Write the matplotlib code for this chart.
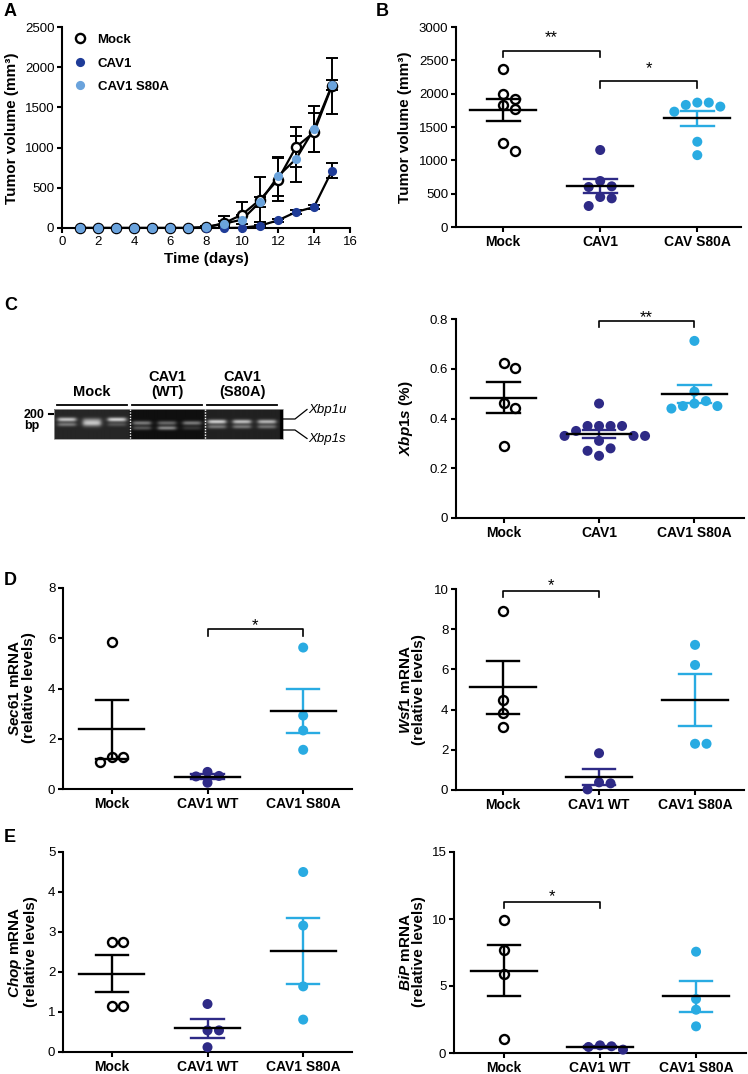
import numpy as np
import matplotlib
matplotlib.use("Agg")
import matplotlib.pyplot as plt
from matplotlib.lines import Line2D
from matplotlib.patches import Rectangle

plt.rcParams['font.family'] = ['Liberation Sans', 'DejaVu Sans']
plt.rcParams['mathtext.fontset'] = 'custom'
plt.rcParams['mathtext.it'] = 'Liberation Sans:italic:bold'
plt.rcParams['mathtext.rm'] = 'Liberation Sans:bold'
plt.rcParams['mathtext.bf'] = 'Liberation Sans:bold'

W, H = 748, 1074

# ---- A: tumor growth curves ----
days = list(range(1, 16))
mock_curve = [0, 0, 0, 0, 0, 0, 0, 10, 60, 166, 352, 601, 1007, 1190, 1770]
mock_curve_err = [0, 0, 0, 0, 0, 0, 0, 10, 90, 160, 280, 270, 250, 240, 350]
cav1_curve = [0, 0, 0, 0, 0, 0, 0, 0, 0, 3, 29, 95, 199, 261, 713]
cav1_curve_err = [0, 0, 0, 0, 0, 0, 0, 0, 0, 3, 10, 15, 20, 20, 90]
s80a_curve = [0, 0, 0, 0, 0, 0, 0, 10, 54, 104, 323, 643, 858, 1231, 1779]
s80a_curve_err = [0, 0, 0, 0, 0, 0, 0, 10, 30, 60, 60, 240, 290, 290, 65]

# ---- B: final tumor volume ----
tumor_cats = ['Mock', 'CAV1', 'CAV S80A']
tumor_mock = [2375, 1990, 1915, 1830, 1765, 1265, 1145]
tumor_cav1 = [1155, 690, 610, 600, 450, 430, 315]
tumor_s80a = [1866, 1866, 1831, 1806, 1730, 1279, 1078]
tumor_mean = [1756, 617, 1630]
tumor_sem = [163, 107, 113]

# ---- C: gel + Xbp1s ----
gel_groups = ['Mock', 'CAV1\n(WT)', 'CAV1\n(S80A)']
gel_bg = [0.15, 0.06, 0.13]
xbp1u_band = [0.62, 0.15, 0.68, 0.42, 0.35, 0.42, 0.68, 0.62, 0.58]
xbp1s_band = [0.32, 0.62, 0.18, 0.28, 0.48, 0.15, 0.34, 0.34, 0.32]
xbp1u_y = [419.5, 423, 421.7]
xbp1s_y = [424.5, 428, 426.7]

xbp1_cats = ['Mock', 'CAV1', 'CAV1 S80A']
xbp1s_mock = [0.625, 0.602, 0.461, 0.444, 0.29]
xbp1s_cav1 = [0.46, 0.37, 0.37, 0.37, 0.37, 0.35, 0.33, 0.33, 0.33, 0.31, 0.28, 0.27, 0.25]
xbp1s_s80a = [0.712, 0.508, 0.47, 0.46, 0.45, 0.45, 0.44]
xbp1s_mean = [0.484, 0.337, 0.499]
xbp1s_sem = [0.061, 0.016, 0.035]

# ---- D / E: qPCR ----
qpcr_cats = ['Mock', 'CAV1 WT', 'CAV1 S80A']
sec61_mock = [5.84, 1.29, 1.27, 1.07]
sec61_wt = [0.68, 0.52, 0.50, 0.25]
sec61_s80a = [5.63, 2.92, 2.33, 1.56]
sec61_mean = [2.37, 0.49, 3.11]
sec61_sem = [1.16, 0.09, 0.88]

wsf1_mock = [8.93, 4.47, 3.85, 3.13]
wsf1_wt = [1.83, 0.38, 0.33, 0.03]
wsf1_s80a = [7.22, 6.22, 2.3, 2.3]
wsf1_mean = [5.1, 0.65, 4.47]
wsf1_sem = [1.31, 0.40, 1.30]

chop_mock = [2.76, 2.76, 1.15, 1.15]
chop_wt = [1.2, 0.54, 0.54, 0.12]
chop_s80a = [4.5, 3.16, 1.64, 0.81]
chop_mean = [1.96, 0.59, 2.53]
chop_sem = [0.47, 0.23, 0.82]

bip_mock = [9.9, 7.71, 5.92, 1.04]
bip_wt = [0.57, 0.5, 0.45, 0.25]
bip_s80a = [7.56, 4.03, 3.23, 1.99]
bip_mean = [6.14, 0.42, 4.23]
bip_sem = [1.90, 0.07, 1.18]

NAVY = '#2e2a86'
SKY = '#29abe2'

fig = plt.figure(figsize=(W / 100, H / 100), dpi=100)


def add_ax(x0, y0, x1, y1):
    return fig.add_axes([x0 / W, 1 - y1 / H, (x1 - x0) / W, (y1 - y0) / H])


def style(ax):
    ax.spines['top'].set_visible(False)
    ax.spines['right'].set_visible(False)
    ax.spines['left'].set_linewidth(1.5)
    ax.spines['bottom'].set_linewidth(1.5)
    ax.tick_params(width=1.5, length=3.5, labelsize=9.5, pad=2)


def swarm_offsets(ax, vals, step=11.5, min_dist=10.0):
    # simple beeswarm: spread points sideways only when they would overlap
    p0 = ax.transData.transform((0, 0))
    p1 = ax.transData.transform((1, 1))
    sx, sy = p1[0] - p0[0], p1[1] - p0[1]
    y = np.asarray(vals, dtype=float) * sy
    off = np.zeros(len(y))
    placed = []
    for i in np.argsort(-y, kind='stable'):
        for k in [0, 1, -1, 2, -2, 3, -3, 4, -4]:
            c = k * step
            if all((c - px) ** 2 + (y[i] - py) ** 2 >= min_dist ** 2 for px, py in placed):
                break
        placed.append((c, y[i]))
        off[i] = c
    return off / sx


def dot_panel(ax, groups, means, sems, cats, xlim, ymax, ystep):
    ax.set_xlim(xlim)
    ax.set_ylim(0, ymax)
    colors = ['black', NAVY, SKY]
    for i, vals in enumerate(groups):
        off = swarm_offsets(ax, vals)
        if i == 0:
            ax.scatter(i + off, vals, s=42, facecolor='white', edgecolor='black',
                       linewidth=1.7, zorder=3, clip_on=False)
        else:
            ax.scatter(i + off, vals, s=52, facecolor=colors[i], edgecolor='none',
                       zorder=3, clip_on=False)
        m, s = means[i], sems[i]
        c = colors[i]
        ax.plot([i, i], [m - s, m + s], color=c, lw=1.7, zorder=4, solid_capstyle='butt')
        ax.plot([i - 0.17, i + 0.17], [m + s, m + s], color=c, lw=1.7, zorder=4)
        ax.plot([i - 0.17, i + 0.17], [m - s, m - s], color=c, lw=1.7, zorder=4)
        ax.plot([i - 0.34, i + 0.34], [m, m], color='black', lw=1.7, zorder=5)
    style(ax)
    ax.set_xticks(range(len(cats)))
    ax.set_xticklabels(cats, weight='bold', size=10)
    ticks = np.arange(0, ymax + ystep / 2, ystep)
    ax.set_yticks(ticks)
    ax.set_yticklabels(['%g' % v for v in ticks])


def bracket(ax, i, j, y, ydrop, text, gap):
    ax.plot([i, i, j, j], [ydrop, y, y, ydrop], color='black', lw=1.2, clip_on=False)
    ax.annotate(text, xy=((i + j) / 2, y), xytext=(0, gap), textcoords='offset points',
                ha='center', va='baseline', size=12)


def ylab(x, y, text):
    fig.text(x / W, 1 - y / H, text, rotation=90, ha='center', va='center',
             weight='bold', size=11, linespacing=1.0, multialignment='center')


# ---------- A ----------
axA = add_ax(62, 27, 350, 228)
series = [
    (mock_curve, mock_curve_err, 'white', 'black', 'Mock'),
    (cav1_curve, cav1_curve_err, '#1f3c98', '#1f3c98', 'CAV1'),
    (s80a_curve, s80a_curve_err, '#6aa3dc', '#6aa3dc', 'CAV1 S80A'),
]
handles = []
for vals, err, fc, ec, lab in series:
    axA.errorbar(days, vals, yerr=err, fmt='none', ecolor='black', elinewidth=1.4,
                 capsize=4.5, capthick=1.4, zorder=2)
    axA.plot(days, vals, color='black', lw=1.6, zorder=2)
    axA.plot(days, vals, 'o', ms=6.6, mfc=fc, mec=ec, mew=1.7 if fc == 'white' else 0,
             zorder=3, clip_on=False)
    handles.append(Line2D([], [], ls='none', marker='o', ms=6.6, mfc=fc, mec=ec,
                          mew=1.7 if fc == 'white' else 0))
axA.set_xlim(0, 16)
axA.set_ylim(0, 2500)
axA.set_xticks(range(0, 17, 2))
axA.set_yticks(range(0, 2501, 500))
style(axA)
axA.set_xlabel('Time (days)', weight='bold', size=11, labelpad=3)
axA.legend(handles, [s[4] for s in series], loc='upper left', bbox_to_anchor=(0.0, 1.025),
           frameon=False, handlelength=1.0, handletextpad=0.8, labelspacing=0.85,
           prop={'weight': 'bold', 'size': 9.5})
ylab(12, 128, 'Tumor volume (mm³)')

# ---------- B ----------
axB = add_ax(456, 27, 741, 227)
dot_panel(axB, [tumor_mock, tumor_cav1, tumor_s80a], tumor_mean, tumor_sem,
          tumor_cats, (-0.485, 2.45), 3000, 500)
bracket(axB, 0, 1, 2643, 2548, '**', 6)
bracket(axB, 1, 2, 2191, 2082, '*', 5.5)
ylab(405, 127, 'Tumor volume (mm³)')

# ---------- C gel ----------
axG = add_ax(0, 360, 374, 450)
axG.set_xlim(-2.68, 12.28)
axG.set_ylim(450, 360)
axG.axis('off')
gx0, gx1, gy0, gy1 = -0.52, 8.64, 409, 439
nx, ny = 460, 60
xs = gx0 + (np.arange(nx) + 0.5) / nx * (gx1 - gx0)
ys = gy0 + (np.arange(ny) + 0.5) / ny * (gy1 - gy0)
XX, YY = np.meshgrid(xs, ys)
img = np.zeros_like(XX)
for g in range(3):
    img[(XX > 3 * g - 0.52) & (XX <= 3 * g + 2.52)] = gel_bg[g]
for lane in range(9):
    g = lane // 3
    hprof = 1 / (1 + np.exp((np.abs(XX - lane) - 0.36) / 0.05))
    img += xbp1u_band[lane] * hprof * np.exp(-0.5 * ((YY - xbp1u_y[g]) / 1.5) ** 2)
    wid = 2.4 if lane == 1 else 1.4
    shift = 1.5 if lane == 1 else 0
    img += xbp1s_band[lane] * hprof * np.exp(-0.5 * ((YY - xbp1s_y[g] + shift) / wid) ** 2)
axG.imshow(np.clip(img, 0, 1), extent=(gx0, gx1, gy1, gy0), cmap='gray', vmin=0, vmax=1,
           aspect='auto', interpolation='bilinear', zorder=1)
axG.add_patch(Rectangle((gx0, gy0), gx1 - gx0, gy1 - gy0, fill=False, ec='#9a9a9a', lw=0.6, zorder=2))
for sep in [2.52, 5.52]:
    axG.plot([sep, sep], [gy0, gy1], color='white', ls=(0, (1, 1)), lw=1.0, zorder=3)
for g, lab in enumerate(gel_groups):
    c = 3 * g + 1
    axG.plot([c - 1.4, c + 1.4], [405, 405], color='black', lw=1.3)
    axG.text(c, 399, lab, ha='center', va='bottom', weight='bold', size=10.5,
             linespacing=1.05, multialignment='center')
axG.text(-1.72, 414.5, '200', ha='left', va='center', weight='bold', size=9)
axG.text(-1.72, 425.5, 'bp', ha='left', va='center', weight='bold', size=9)
axG.plot([-0.74, -0.55], [414, 414], color='black', lw=1.5)
axG.plot([8.64, 9.12, 9.6], [419, 419, 409.5], color='black', lw=0.9)
axG.plot([8.64, 9.12, 9.6], [430, 430, 438.5], color='black', lw=0.9)
axG.text(9.66, 409.5, 'Xbp1u', style='italic', ha='left', va='center', size=9.5)
axG.text(9.66, 439, 'Xbp1s', style='italic', ha='left', va='center', size=9.5)

# ---------- C Xbp1s ----------
axC = add_ax(456, 319, 744, 518)
dot_panel(axC, [xbp1s_mock, xbp1s_cav1, xbp1s_s80a], xbp1s_mean, xbp1s_sem,
          xbp1_cats, (-0.5, 2.52), 0.8, 0.2)
bracket(axC, 1, 2, 0.793, 0.767, '**', -1)
ylab(406, 418, r'$\mathit{Xbp1s}$ (%)')

# ---------- D ----------
axD1 = add_ax(63, 588, 352, 789)
dot_panel(axD1, [sec61_mock, sec61_wt, sec61_s80a], sec61_mean, sec61_sem,
          qpcr_cats, (-0.51, 2.51), 8, 2)
bracket(axD1, 1, 2, 6.36, 6.07, '*', -0.5)
ylab(22, 688, r'$\mathit{Sec61}$ mRNA' + '\n(relative levels)')

axD2 = add_ax(456, 589, 744, 790)
dot_panel(axD2, [wsf1_mock, wsf1_wt, wsf1_s80a], wsf1_mean, wsf1_sem,
          qpcr_cats, (-0.49, 2.51), 10, 2)
bracket(axD2, 0, 1, 9.92, 9.58, '*', 0)
ylab(412, 690, r'$\mathit{Wsf1}$ mRNA' + '\n(relative levels)')

# ---------- E ----------
axE1 = add_ax(63, 852, 352, 1052)
dot_panel(axE1, [chop_mock, chop_wt, chop_s80a], chop_mean, chop_sem,
          qpcr_cats, (-0.51, 2.51), 5, 1)
ylab(22, 952, r'$\mathit{Chop}$ mRNA' + '\n(relative levels)')

axE2 = add_ax(454, 852, 746, 1053)
dot_panel(axE2, [bip_mock, bip_wt, bip_s80a], bip_mean, bip_sem,
          qpcr_cats, (-0.52, 2.52), 15, 5)
bracket(axE2, 0, 1, 11.27, 10.82, '*', 0.5)
ylab(412, 952, r'$\mathit{BiP}$ mRNA' + '\n(relative levels)')

# panel letters
for x, y, t in [(4, 3, 'A'), (376, 3, 'B'), (4, 297, 'C'), (4, 572, 'D'), (4, 829, 'E')]:
    fig.text(x / W, 1 - y / H, t, ha='left', va='top', weight='bold', size=13)

fig.savefig('out.png', dpi=100)
